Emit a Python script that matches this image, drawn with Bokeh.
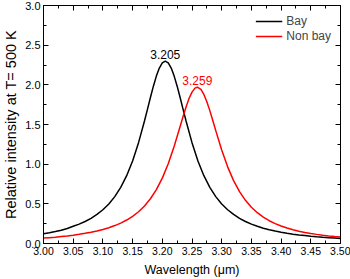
from bokeh.plotting import figure
from bokeh.models import (LinearAxis, Range1d, FixedTicker, Legend, LegendItem,
                          ColumnDataSource, NumeralTickFormatter)
from bokeh.core.properties import value
from bokeh.embed import file_html
from bokeh.resources import INLINE

# ---- data ----
bay_x = [3.00, 3.01, 3.02, 3.03, 3.04, 3.05, 3.06, 3.07, 3.08, 3.09, 3.10, 3.11, 3.12,
         3.13, 3.14, 3.15, 3.16, 3.17, 3.175, 3.18, 3.185, 3.19, 3.195, 3.20, 3.205,
         3.21, 3.215, 3.22, 3.225, 3.23, 3.235, 3.24, 3.25, 3.26, 3.27, 3.28, 3.29,
         3.30, 3.31, 3.32, 3.33, 3.34, 3.35, 3.36, 3.37, 3.38, 3.39, 3.40, 3.41, 3.42,
         3.43, 3.44, 3.45, 3.46, 3.47, 3.48, 3.49, 3.50]
bay_y = [0.122, 0.135, 0.150, 0.168, 0.190, 0.217, 0.244, 0.277, 0.317, 0.366, 0.425,
         0.499, 0.591, 0.708, 0.855, 1.041, 1.271, 1.544, 1.691, 1.840, 1.983, 2.110,
         2.212, 2.277, 2.300, 2.277, 2.212, 2.110, 1.983, 1.840, 1.691, 1.544, 1.271,
         1.041, 0.855, 0.708, 0.591, 0.499, 0.425, 0.366, 0.317, 0.277, 0.244, 0.217,
         0.193, 0.174, 0.157, 0.142, 0.129, 0.118, 0.108, 0.100, 0.092, 0.085, 0.079,
         0.074, 0.069, 0.064]

nonbay_x = [3.00, 3.01, 3.02, 3.03, 3.04, 3.05, 3.06, 3.07, 3.08, 3.09, 3.10, 3.11,
            3.12, 3.13, 3.14, 3.15, 3.16, 3.17, 3.18, 3.19, 3.20, 3.21, 3.22, 3.23,
            3.235, 3.24, 3.245, 3.25, 3.255, 3.259, 3.265, 3.27, 3.275, 3.28, 3.285,
            3.29, 3.30, 3.31, 3.32, 3.33, 3.34, 3.35, 3.36, 3.37, 3.38, 3.39, 3.40,
            3.41, 3.42, 3.43, 3.44, 3.45, 3.46, 3.47, 3.48, 3.49, 3.50]
nonbay_y = [0.068, 0.074, 0.080, 0.088, 0.096, 0.105, 0.116, 0.128, 0.142, 0.158, 0.177,
            0.199, 0.226, 0.257, 0.296, 0.343, 0.400, 0.473, 0.564, 0.678, 0.824, 1.005,
            1.225, 1.474, 1.601, 1.721, 1.827, 1.908, 1.958, 1.970, 1.942, 1.879, 1.787,
            1.675, 1.551, 1.423, 1.178, 0.966, 0.792, 0.653, 0.544, 0.457, 0.388, 0.332,
            0.287, 0.251, 0.220, 0.195, 0.173, 0.155, 0.140, 0.126, 0.115, 0.105, 0.096,
            0.088, 0.081]

peak_x = [3.205, 3.259]
peak_y = [2.30, 1.97]
peak_text = ["3.205", "3.259"]
peak_color = ["black", "red"]

x_ticks = [3.00, 3.05, 3.10, 3.15, 3.20, 3.25, 3.30, 3.35, 3.40, 3.45, 3.50]
x_minor = [3.025, 3.075, 3.125, 3.175, 3.225, 3.275, 3.325, 3.375, 3.425, 3.475]
y_ticks = [0.0, 0.5, 1.0, 1.5, 2.0, 2.5, 3.0]
y_minor = [0.25, 0.75, 1.25, 1.75, 2.25, 2.75]

FONT = "Liberation Sans"

p = figure(width=350, height=279, x_range=Range1d(3.0, 3.5), y_range=Range1d(0, 3.0),
           output_backend="svg", toolbar_location=None,
           min_border_top=5, min_border_right=10, min_border_left=42, min_border_bottom=36)
p.xgrid.visible = False
p.ygrid.visible = False
p.outline_line_color = "black"
p.outline_line_width = 1
p.background_fill_color = "white"

def style_axis(ax, ticks, minor, fmt, show_labels=True):
    ax.ticker = FixedTicker(ticks=ticks, minor_ticks=minor)
    ax.formatter = NumeralTickFormatter(format=fmt)
    ax.major_tick_in = 5
    ax.major_tick_out = 0
    ax.minor_tick_in = 3
    ax.minor_tick_out = 0
    ax.major_tick_line_color = "black"
    ax.minor_tick_line_color = "black"
    ax.axis_line_color = "black"
    ax.major_label_text_font = FONT
    ax.major_label_text_color = "black"
    ax.axis_label_text_font = FONT
    ax.axis_label_text_font_style = "normal"
    ax.axis_label_text_color = "black"
    ax.axis_label_text_font_size = "12.5px"
    ax.major_label_text_font_size = "11px"
    if show_labels:
        ax.major_label_standoff = 3
        ax.axis_label_standoff = 4
    else:
        ax.major_label_overrides = {t: "" for t in ticks}
        ax.major_label_standoff = 0

style_axis(p.xaxis[0], x_ticks, x_minor, "0.00")
style_axis(p.yaxis[0], y_ticks, y_minor, "0.0")
p.xaxis[0].axis_label = "Wavelength (μm)"
p.xaxis[0].axis_label_standoff = 5
p.xaxis[0].major_label_text_font_size = "10.5px"
p.yaxis[0].axis_label = "Relative intensity at T= 500 K"
p.yaxis[0].axis_label_text_font_size = "14.5px"
p.yaxis[0].axis_label_standoff = 3

top = LinearAxis()
style_axis(top, x_ticks, x_minor, "0.00", show_labels=False)
p.add_layout(top, "above")
right = LinearAxis()
style_axis(right, y_ticks, y_minor, "0.0", show_labels=False)
p.add_layout(right, "right")

r1 = p.line(bay_x, bay_y, line_color="black", line_width=1.5)
r2 = p.line(nonbay_x, nonbay_y, line_color="red", line_width=1.5)

src = ColumnDataSource(dict(x=peak_x, y=peak_y, t=peak_text, c=peak_color))
p.text(x="x", y="y", text="t", text_color="c", source=src, text_align="center",
       text_baseline="bottom", y_offset=-2, text_font=value(FONT),
       text_font_size="12px")

legend = Legend(items=[LegendItem(label="Bay", renderers=[r1]),
                       LegendItem(label="Non bay", renderers=[r2])],
                location="top_right", border_line_color=None,
                background_fill_alpha=0, glyph_width=27, glyph_height=12,
                label_text_font=FONT, label_text_font_size="12px",
                label_standoff=4, spacing=1, padding=0, margin=9)
p.add_layout(legend)

open("out.html", "w").write(file_html(p, INLINE))
